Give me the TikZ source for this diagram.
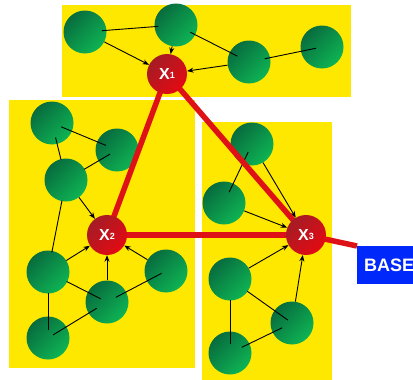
\documentclass[tikz,border=0pt]{standalone}
\usepackage{fontspec}
\setmainfont{Liberation Sans}
\usetikzlibrary{arrows.meta}
\definecolor{panel}{RGB}{255,232,0}
\definecolor{gdark}{RGB}{8,108,62}
\definecolor{glight}{RGB}{14,180,84}
\definecolor{rdark}{RGB}{165,28,38}
\definecolor{rlight}{RGB}{228,10,18}
\definecolor{redline}{RGB}{222,18,22}
\definecolor{baseblue}{RGB}{0,40,250}
\pgfdeclarelayer{back}
\pgfdeclarelayer{greenl}
\pgfdeclarelayer{front}
\pgfsetlayers{back,greenl,main,front}
\tikzset{
  gnode/.style={circle, minimum size=43pt, inner sep=0pt, top color=gdark, bottom color=glight, shading angle=45},
  xnode/.style={circle, minimum size=40pt, inner sep=0pt, top color=rdark, bottom color=rlight, shading angle=45, text=white, font=\bfseries\fontsize{16}{16}\selectfont},
  panelbox/.style={fill=panel, draw=none},
  ln/.style={line width=0.9pt, black},
  arr/.style={line width=0.9pt, black, -{Stealth[length=6.5pt,width=5pt]}},
  rl/.style={line width=5.5pt, redline},
  basebox/.style={rectangle, fill=baseblue, text=white, font=\bfseries\fontsize{18}{18}\selectfont, anchor=north west, minimum height=38pt, minimum width=70pt, inner sep=0pt, text width=64pt, align=left}
}
\newcommand{\xlab}[1]{X{\fontsize{9}{9}\selectfont\raisebox{0.8pt}{#1}}}
\begin{document}
\begin{tikzpicture}[x=1pt,y=-1pt]
\useasboundingbox (0,0) rectangle (413,380);
\clip (0,0) rectangle (413,380);
\begin{pgfonlayer}{back}
  \fill[panelbox] (62,5) rectangle (351,97);
  \fill[panelbox] (9,100) rectangle (195,368);
  \fill[panelbox] (202,122) rectangle (332,380);
\end{pgfonlayer}
\begin{pgfonlayer}{front}
  \node[xnode] (X1) at (167,74) {\xlab{1}};
  \node[xnode] (X2) at (107,235) {\xlab{2}};
  \node[xnode] (X3) at (306,235) {\xlab{3}};
  \node[basebox] (BASE) at (357,246) {\hspace*{4pt}BASE};
\end{pgfonlayer}
\begin{pgfonlayer}{greenl}
  % top panel
  \node[gnode] (A1) at (85,32) {};
  \node[gnode] (A2) at (176,25) {};
  \node[gnode] (A3) at (249,62) {};
  \node[gnode] (A4) at (322,47) {};
  % left panel
  \node[gnode] (B1) at (52,123) {};
  \node[gnode] (B2) at (117,150) {};
  \node[gnode] (B3) at (66,180) {};
  \node[gnode] (B4) at (48,272) {};
  \node[gnode] (B5) at (107,302) {};
  \node[gnode] (B6) at (166,271) {};
  \node[gnode] (B7) at (48,338) {};
  % right panel
  \node[gnode] (C1) at (252,144) {};
  \node[gnode] (C2) at (224,203) {};
  \node[gnode] (C3) at (230,279) {};
  \node[gnode] (C4) at (292,323) {};
  \node[gnode] (C5) at (230,353) {};
  % plain lines
  \draw[ln, shorten <=17pt, shorten >=18pt] (A1.center) -- (A2.center);
  \draw[ln, shorten <=16pt, shorten >=13pt] (A2.center) -- (A3.center);
  \draw[ln, shorten <=16pt, shorten >=6pt] (A3.center) -- (A4.center);
  \draw[ln, shorten <=10pt, shorten >=12pt] (B1.center) -- (B2.center);
  \draw[ln, shorten <=15pt, shorten >=21pt] (B1.center) -- (B3.center);
  \draw[ln, shorten <=8pt, shorten >=21pt] (B2.center) -- (B3.center);
  \draw[ln, shorten <=21pt, shorten >=20pt] (B3.center) -- (B4.center);
  \draw[ln, shorten <=21pt, shorten >=7pt] (B4.center) -- (B5.center);
  \draw[ln, shorten <=5pt, shorten >=10pt] (B6.center) -- (B5.center);
  \draw[ln, shorten <=21pt, shorten >=8pt] (B4.center) -- (B7.center);
  \draw[ln, shorten <=6pt, shorten >=12pt] (B7.center) -- (B5.center);
  \draw[ln, shorten <=9pt, shorten >=12pt] (C1.center) -- (C2.center);
  \draw[ln, shorten <=21pt, shorten >=5pt] (C3.center) -- (C4.center);
  \draw[ln, shorten <=21pt, shorten >=9pt] (C3.center) -- (C5.center);
  \draw[ln, shorten <=13pt, shorten >=11pt] (C5.center) -- (C4.center);
  % arrows
  \draw[arr] (A1) -- (X1);
  \draw[arr] (A2) -- (X1);
  \draw[arr] (A3) -- (X1);
  \draw[arr] (B3) -- (X2);
  \draw[arr] (B4) -- (X2);
  \draw[arr] (B5) -- (X2);
  \draw[arr] (B6) -- (X2);
  \draw[arr] (C1) -- (X3);
  \draw[arr] (C2) -- (X3);
  \draw[arr] (C3) -- (X3);
  \draw[arr] (C4) -- (X3);
\end{pgfonlayer}
% red backbone
\draw[rl] (X1.center) -- (X2.center);
\draw[rl] (X1.center) -- (X3.center);
\draw[rl] (X2.center) -- (X3.center);
\draw[rl] (X3.center) -- (BASE.north west);
\end{tikzpicture}
\end{document}
